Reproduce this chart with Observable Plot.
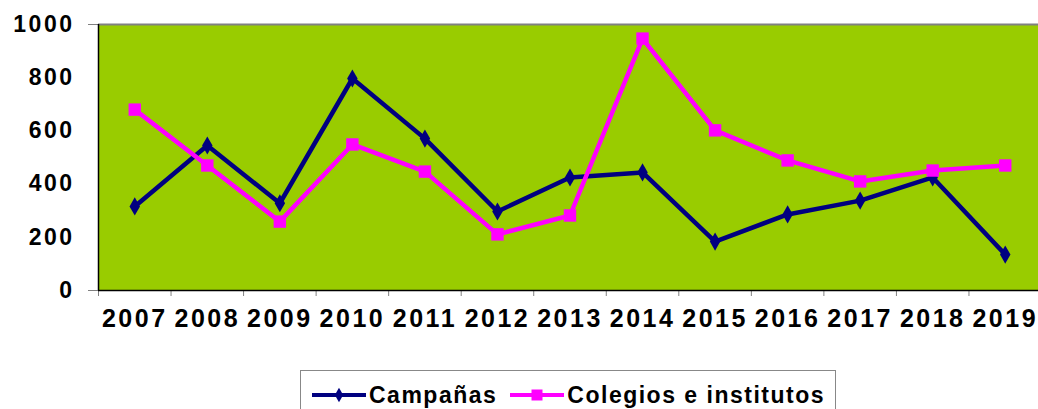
<!DOCTYPE html>
<html>
<head>
<meta charset="utf-8">
<script src="https://cdn.jsdelivr.net/npm/d3@7"></script>
<script src="https://cdn.jsdelivr.net/npm/@observablehq/plot@0.6"></script>
<style>
  body { margin: 0; background: #fff; font-family: "Liberation Sans", Arial, sans-serif; }
  #wrap { position: relative; width: 1038px; height: 409px; overflow: hidden; }
  #chart svg text { letter-spacing: 2.5px; }
  #legend {
    position: absolute; left: 300px; top: 370px; width: 536px; height: 60px;
    border: 1px solid #888; box-sizing: border-box; background: #fff;
    display: flex; align-items: flex-start; padding-top: 12px; padding-left: 11px;
    font-weight: bold; font-size: 23px; letter-spacing: 1.5px; line-height: 24px; color: #000;
  }
  #legend .item { display: flex; align-items: center; }
  #legend svg { display: block; margin-right: 3px; }
</style>
</head>
<body>
<div id="wrap">
  <div id="chart"></div>
  <div id="legend"></div>
</div>
<script>
const years = [2007, 2008, 2009, 2010, 2011, 2012, 2013, 2014, 2015, 2016, 2017, 2018, 2019];
const campanas = [316, 545, 328, 797, 571, 297, 425, 444, 184, 286, 338, 425, 135];
const colegios = [680, 470, 259, 549, 447, 211, 282, 947, 602, 489, 410, 451, 470];
const yTicks = [0, 200, 400, 600, 800, 1000];
const seriesNames = ["Campañas", "Colegios e institutos"];
const seriesColors = ["#000080", "#ff00ff"];

const dataC = years.map((y, i) => ({year: y, value: campanas[i]}));
const dataK = years.map((y, i) => ({year: y, value: colegios[i]}));
const boundaries = d3.range(years.length + 1).map(i => years[0] - 0.5 + i);

const chart = Plot.plot({
  width: 1038,
  height: 345,
  marginLeft: 98,
  marginRight: 0,
  marginTop: 24,
  marginBottom: 55,
  x: {domain: [years[0] - 0.5, years[years.length - 1] + 0.5], range: [98, 1041], label: null},
  y: {domain: [0, 1000], label: null},
  style: {fontFamily: "'Liberation Sans', Arial, sans-serif", color: "#000", background: "#fff"},
  marks: [
    Plot.frame({fill: "#99cc00", stroke: null}),
    Plot.ruleY([1000], {stroke: "#808080", strokeWidth: 2}),
    Plot.axisY({ticks: [0, 1000], tickSize: 10, text: null, label: null, stroke: "#808080"}),
    Plot.axisY({ticks: yTicks, tickSize: 0, tickPadding: 24, label: null, fontSize: 23, fontWeight: "bold", tickFormat: d => String(d)}),
    Plot.axisX({ticks: boundaries, tickSize: 6, text: null, label: null, stroke: "#808080"}),
    Plot.axisX({ticks: years, tickSize: 0, tickPadding: 19, label: null, fontSize: 25, fontWeight: "bold", tickFormat: d => String(d)}),
    Plot.ruleY([0], {stroke: "#000", strokeWidth: 1.5}),
    Plot.ruleX([years[0] - 0.5], {stroke: "#000", strokeWidth: 1.5}),
    Plot.line(dataC, {x: "year", y: "value", stroke: seriesColors[0], strokeWidth: 4.5}),
    Plot.line(dataK, {x: "year", y: "value", stroke: seriesColors[1], strokeWidth: 4.5}),
    Plot.dot(dataC, {x: "year", y: "value", symbol: "diamond", r: 5.5, fill: seriesColors[0], stroke: "none"}),
    Plot.dot(dataK, {x: "year", y: "value", symbol: "square", r: 7, fill: seriesColors[1], stroke: "none"})
  ]
});
document.getElementById("chart").appendChild(chart);

// Legend
const legend = document.getElementById("legend");
const symbols = [d3.symbolDiamond, d3.symbolSquare];
const sizes = [60, 121];
seriesNames.forEach((name, i) => {
  const item = document.createElement("div");
  item.className = "item";
  if (i > 0) item.style.marginLeft = "13px";
  const sw = d3.create("svg").attr("width", 54).attr("height", 24);
  sw.append("line").attr("x1", 0).attr("x2", 54).attr("y1", 12).attr("y2", 12)
    .attr("stroke", seriesColors[i]).attr("stroke-width", 4);
  sw.append("path").attr("transform", "translate(27,12)")
    .attr("d", d3.symbol(symbols[i], sizes[i])()).attr("fill", seriesColors[i]);
  item.appendChild(sw.node());
  const t = document.createElement("span");
  t.textContent = name;
  item.appendChild(t);
  legend.appendChild(item);
});
</script>
</body>
</html>
